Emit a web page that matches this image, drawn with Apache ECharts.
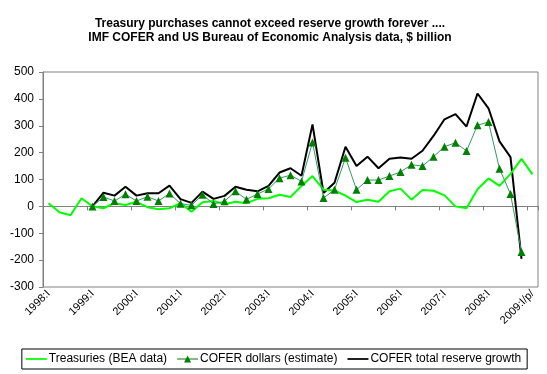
<!DOCTYPE html>
<html>
<head>
<meta charset="utf-8">
<script src="https://cdn.jsdelivr.net/npm/echarts@6/dist/echarts.min.js"></script>
<style>html,body{margin:0;padding:0;background:#fff}#c{width:547px;height:374px}</style>
</head>
<body>
<div id="c"></div>
<script>
const romans = ['I','II','III','IV'];
const categories = [];
for (let y = 1998; y <= 2008; y++) for (let q = 0; q < 4; q++) categories.push(y + ':' + romans[q]);
categories.push('2009:I/p/');

const treasuries = [12,-22,-33,30,0,-7,12,5,17,-3,-11,-7,12,-20,15,20,8,17,12,28,30,43,35,76,113,62,59,40,16,25,17,56,66,25,61,58,41,0,-7,64,104,76,121,177,119];
const coferDollars = [null,null,null,null,0,35,20,45,20,36,20,48,10,4,43,9,19,56,26,46,65,105,116,93,238,31,62,181,62,98,98,113,128,155,150,185,222,237,206,302,314,140,46,-170,null];
const coferTotal = [null,null,null,null,0,51,40,73,40,49,49,77,27,13,55,28,39,73,62,56,76,126,142,114,305,50,88,222,150,185,142,177,182,177,207,262,324,343,297,420,365,242,183,-195,null];
const yTicks = {min:-300, max:500, interval:100};
const seriesNames = ['Treasuries (BEA data)', 'COFER dollars (estimate)', 'COFER total reserve growth'];

const chart = echarts.init(document.getElementById('c'));
const font = 'Arial, "Liberation Sans", sans-serif';
const lineIcon = 'path://M0,4h24v2h-24z';
const triIcon = 'path://M0,4.5h24v1h-24z M8,9 L12,1 L16,9 Z';
chart.setOption({
  animation: false,
  backgroundColor: '#fff',
  title: {
    text: 'Treasury purchases cannot exceed reserve growth forever ....\nIMF COFER and US Bureau of Economic Analysis data, $ billion',
    left: 265, top: 12, textAlign: 'center',
    textStyle: {fontFamily: font, fontWeight: 'bold', fontSize: 12, lineHeight: 14, color: '#000'}
  },
  grid: {left: 43, right: 9, top: 72, bottom: 87, show: true, borderColor: '#808080', borderWidth: 1, backgroundColor: '#fff'},
  legend: {
    bottom: 5, left: 'center',
    borderColor: '#000', borderWidth: 1, padding: [4, 6, 4, 4],
    itemGap: 10, itemWidth: 21, itemHeight: 10,
    textStyle: {fontFamily: font, fontSize: 12, color: '#000', padding: [0,0,0,-3]},
    data: [
      {name: seriesNames[0], icon: lineIcon},
      {name: seriesNames[1], icon: triIcon},
      {name: seriesNames[2], icon: lineIcon}
    ]
  },
  xAxis: [{
    type: 'category', data: categories, boundaryGap: true, position: 'bottom',
    axisLine: {show: false, onZero: false},
    axisTick: {show: false},
    axisLabel: {interval: 3, rotate: 45, fontFamily: font, fontSize: 11, color: '#000', margin: 5}
  }, {
    type: 'category', data: categories, boundaryGap: true, position: 'bottom',
    axisLine: {show: true, onZero: true, lineStyle: {color: '#808080', width: 1}},
    axisTick: {show: true, interval: 3, length: 4, lineStyle: {color: '#808080'}},
    axisLabel: {show: false}
  }],
  yAxis: {
    type: 'value', min: yTicks.min, max: yTicks.max, interval: yTicks.interval,
    axisLine: {show: true, lineStyle: {color: '#808080'}},
    axisTick: {show: true, length: 4, lineStyle: {color: '#808080'}},
    splitLine: {show: false},
    axisLabel: {fontFamily: font, fontSize: 12, color: '#000', margin: 9}
  },
  series: [{
    name: seriesNames[0], type: 'line', data: treasuries, xAxisIndex: 0,
    symbol: 'none', lineStyle: {color: '#00ff00', width: 2}, itemStyle: {color: '#00ff00'}, z: 3
  }, {
    name: seriesNames[1], type: 'line', data: coferDollars, xAxisIndex: 0,
    symbol: 'triangle', symbolSize: 8, showSymbol: true, showAllSymbol: true,
    lineStyle: {color: '#339966', width: 1}, itemStyle: {color: '#007f00'}, z: 4
  }, {
    name: seriesNames[2], type: 'line', data: coferTotal, xAxisIndex: 0,
    symbol: 'none', lineStyle: {color: '#000', width: 2}, itemStyle: {color: '#000'}, z: 2
  }]
});
</script>
</body>
</html>
